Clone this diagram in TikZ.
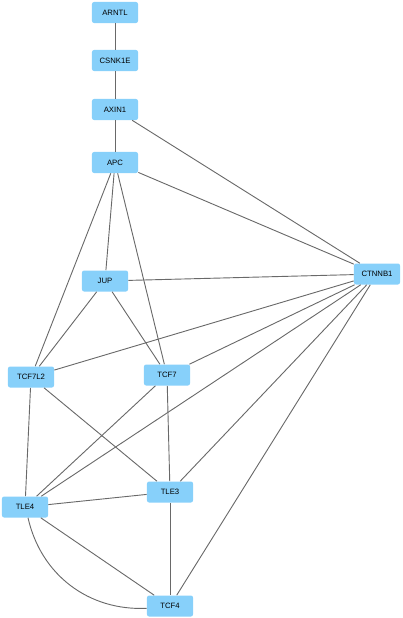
\documentclass[tikz,border=0pt]{standalone}
\usepackage{fontspec}
\setmainfont{Liberation Sans}
\definecolor{genefill}{RGB}{135,208,250}
\definecolor{edgegray}{RGB}{105,105,105}

\begin{document}
\begin{tikzpicture}[x=0.025cm, y=-0.025cm,
    gene/.style={fill=genefill, rounded corners=1.5pt, minimum width=1.15cm, minimum height=0.525cm, inner sep=0pt, font=\fontsize{5.5}{6.5}\selectfont},
    link/.style={draw=edgegray, line width=0.65pt}]

\useasboundingbox (0,0) rectangle (402,618);

% genes
\node [gene] (ARNTL)  at (115,12.5)  {ARNTL};
\node [gene] (CSNK1E) at (115,60.5)  {CSNK1E};
\node [gene] (AXIN1)  at (115,109.5) {AXIN1};
\node [gene] (APC)    at (115,162.5) {APC};
\node [gene] (JUP)    at (105,281)   {JUP};
\node [gene] (CTNNB1) at (377,274)   {CTNNB1};
\node [gene] (TCF7L2) at (31,377)    {TCF7L2};
\node [gene] (TCF7)   at (167,375)   {TCF7};
\node [gene] (TLE3)   at (170,492)   {TLE3};
\node [gene] (TLE4)   at (25,507)    {TLE4};
\node [gene] (TCF4)   at (170,606)   {TCF4};

% interactions
\foreach \a / \b in {ARNTL/CSNK1E, CSNK1E/AXIN1, AXIN1/APC, AXIN1/CTNNB1,
    APC/CTNNB1, APC/JUP, APC/TCF7L2, APC/TCF7,
    JUP/CTNNB1, JUP/TCF7L2, JUP/TCF7,
    CTNNB1/TCF7L2, CTNNB1/TCF7, CTNNB1/TLE4, CTNNB1/TLE3, CTNNB1/TCF4,
    TCF7L2/TLE4, TCF7L2/TLE3, TCF7/TLE4, TCF7/TLE3,
    TLE4/TLE3, TLE4/TCF4, TLE3/TCF4}{
    \draw [link] (\a) -- (\b);
}
\draw [link] (TLE4) to [bend right=40] (TCF4);

\end{tikzpicture}
\end{document}
